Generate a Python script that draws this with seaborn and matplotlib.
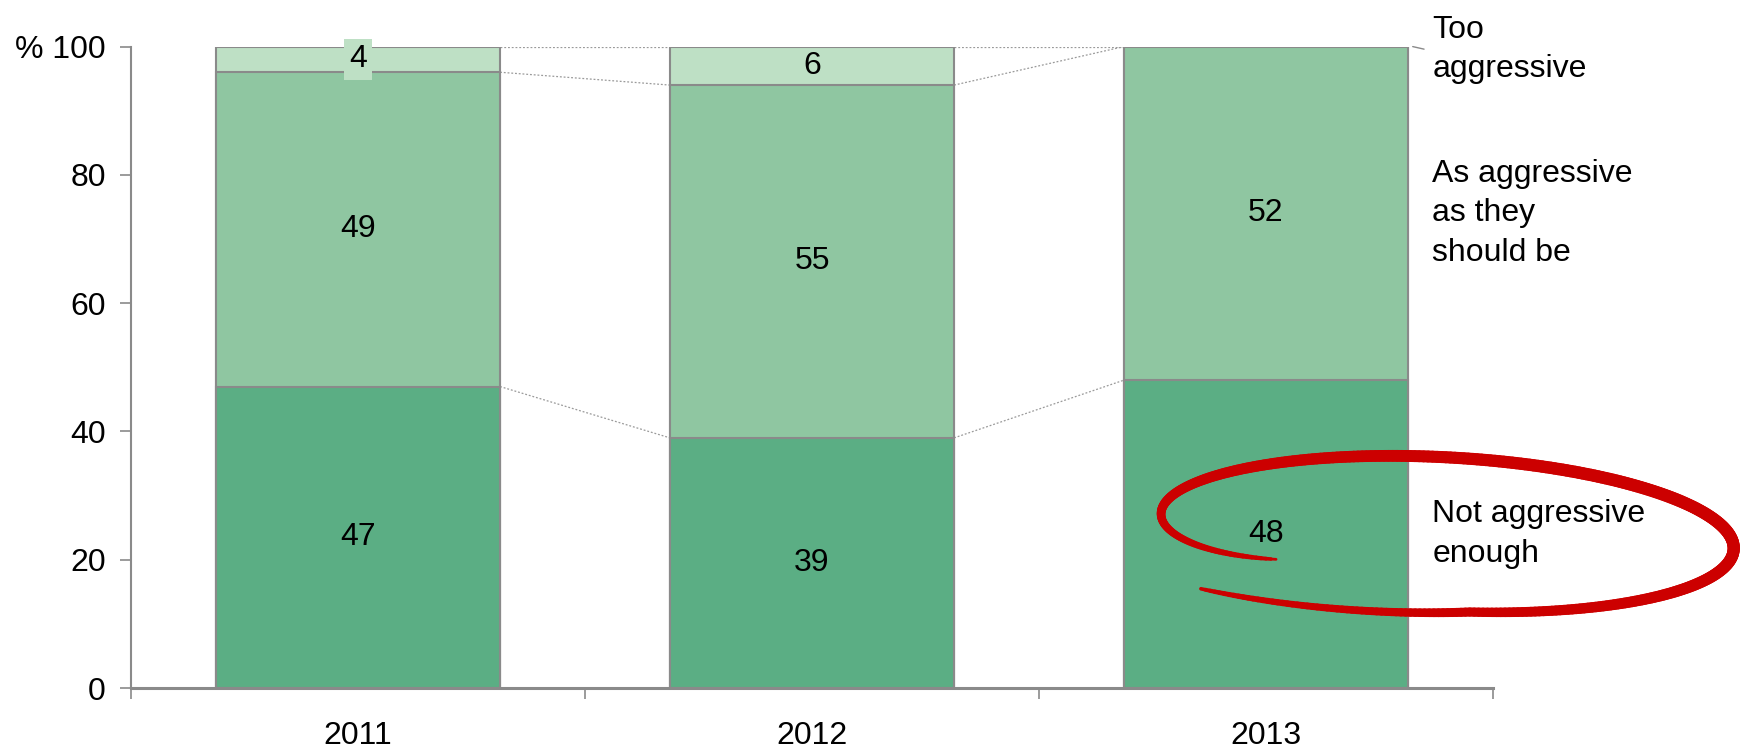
import numpy as np
import pandas as pd
import matplotlib
matplotlib.use("Agg")
import matplotlib.pyplot as plt
from matplotlib.collections import LineCollection
import seaborn as sns

# Survey: how aggressive are regulators? (% of respondents)
years = ["2011", "2012", "2013"]
not_enough = [47, 39, 48]
as_should = [49, 55, 52]
too_aggressive = [4, 6, 0]
series_labels = ["Not aggressive\nenough", "As aggressive\nas they\nshould be", "Too\naggressive"]
y_ticks = [0, 20, 40, 60, 80, 100]
y_ticklabels = ["0", "20", "40", "60", "80", "% 100"]

sns.set_theme(style="white")
plt.rcParams["font.family"] = ["Liberation Sans", "DejaVu Sans"]
plt.rcParams["text.color"] = "black"
plt.rcParams["xtick.color"] = "black"
plt.rcParams["ytick.color"] = "black"

C_DARK = "#5BAE84"
C_MID = "#8FC6A1"
C_LIGHT = "#BEE0C5"
EDGE = "#8A8A8A"
FS = 23

df = pd.DataFrame({"year": years, "low": not_enough, "mid": as_should, "top": too_aggressive})
df["c1"] = df["low"]
df["c2"] = df["low"] + df["mid"]
df["c3"] = df["c2"] + df["top"]

fig = plt.figure(figsize=(17.41, 7.49), dpi=100)
ax = fig.add_axes([0.0752, 0.0814, 0.7824, 0.8564])

W = 0.626
# stacked bars drawn as overlapping cumulative layers
for col, color in [("c3", C_LIGHT), ("c2", C_MID), ("c1", C_DARK)]:
    sns.barplot(data=df, x="year", y=col, color=color, width=W, saturation=1,
                edgecolor=EDGE, linewidth=1.5, ax=ax, zorder=2)

ax.set_xlim(-0.5, 2.5)
ax.set_ylim(0, 100)
ax.set_xlabel("")
ax.set_ylabel("")

# dotted connectors between segment boundaries of neighbouring bars
levels = df[["c1", "c2", "c3"]].to_numpy()
for i in range(len(years) - 1):
    for k in range(3):
        ax.plot([i + W / 2, i + 1 - W / 2], [levels[i, k], levels[i + 1, k]],
                ls=(0, (1.5, 1.5)), color="#9A9A9A", lw=0.9, zorder=1)

# value labels inside segments
for i in range(len(years)):
    ax.text(i, not_enough[i] / 2, str(not_enough[i]), ha="center", va="center",
            fontsize=FS, zorder=4)
    ax.text(i, not_enough[i] + as_should[i] / 2, str(as_should[i]), ha="center",
            va="center", fontsize=FS, zorder=4)
    if too_aggressive[i] > 0:
        yb = not_enough[i] + as_should[i] + too_aggressive[i] / 2
        bbox = dict(facecolor=C_LIGHT, edgecolor="none", pad=4) if too_aggressive[i] < 5 else None
        ax.text(i, yb, str(too_aggressive[i]), ha="center", va="center",
                fontsize=FS, zorder=4, bbox=bbox)

# series labels to the right of the last bar
last = len(years) - 1
lx = last + 0.366
ax.text(lx, not_enough[last] / 2, series_labels[0], ha="left", va="center",
        fontsize=FS, linespacing=1.4, clip_on=False)
ax.text(lx, not_enough[last] + as_should[last] / 2, series_labels[1], ha="left",
        va="center", fontsize=FS, linespacing=1.4, clip_on=False)
ax.text(lx, 99.5, series_labels[2], ha="left", va="center",
        fontsize=FS, linespacing=1.4, clip_on=False)
ax.plot([last + W / 2 + 0.01, last + W / 2 + 0.035], [100, 99.6], color="#8A8A8A",
        lw=1, clip_on=False)

# axes styling
for s in ["top", "right"]:
    ax.spines[s].set_visible(False)
ax.spines["left"].set_color(EDGE)
ax.spines["left"].set_linewidth(1.5)
ax.spines["bottom"].set_color(EDGE)
ax.spines["bottom"].set_linewidth(2.2)
ax.spines["bottom"].set_zorder(5)

ax.set_yticks(y_ticks)
ax.set_yticklabels(y_ticklabels, fontsize=FS)
ax.tick_params(axis="y", left=True, length=8, width=1.2, color=EDGE, pad=10)
ax.set_xticks(range(len(years)))
ax.set_xticklabels(years, fontsize=FS)
ax.tick_params(axis="x", which="major", bottom=False, length=0, pad=24)
ax.set_xticks([-0.5, 0.5, 1.5, 2.5], minor=True)
ax.tick_params(axis="x", which="minor", bottom=True, length=8, width=1.2, color=EDGE)

# hand-drawn red highlight around the 2013 "not aggressive enough" value
cx, cy = 2.39, 24.0
rx, ry = 0.64, 12.0
t = np.linspace(0, 1, 400)
theta = np.deg2rad(217 - 351 * t)
r = 1 - 0.28 * np.exp(-t / 0.05) + 0.2 * np.clip((t - 0.86) / 0.14, 0, 1)
ux = r * np.cos(theta)
uy = r * np.sin(theta)
px = cx + rx * ux
py = cy + ry * uy - 2.2 * ux
pts = np.column_stack([px, py])
segs = np.stack([pts[:-1], pts[1:]], axis=1)
widths = 2.0 + 7.0 * np.sin(np.pi * t[:-1]) ** 0.5
lc = LineCollection(segs, linewidths=widths, colors="#CC0000", capstyle="round",
                    clip_on=False, zorder=6)
ax.add_collection(lc)

fig.savefig("out.png", dpi=100)
